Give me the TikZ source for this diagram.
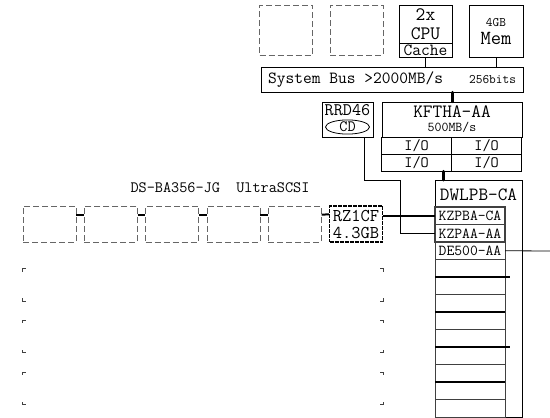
\documentclass[tikz,border=0pt]{standalone}
\usepackage{fontspec}
\usetikzlibrary{positioning, shapes.geometric}

\newcommand{\fs}[1]{\fontsize{#1}{#1}\selectfont}
\newcommand{\shelfcorners}[1]{%
\draw [corner] ([xshift=3pt]#1.north west) -- (#1.north west) -- ([yshift=-3pt]#1.north west);
\draw [corner] ([xshift=-3pt]#1.north east) -- (#1.north east) -- ([yshift=-3pt]#1.north east);
\draw [corner] ([xshift=3pt]#1.south west) -- (#1.south west) -- ([yshift=3pt]#1.south west);
\draw [corner] ([xshift=-3pt]#1.south east) -- (#1.south east) -- ([yshift=3pt]#1.south east);}

\tikzstyle{emptybay} = [rectangle, 
draw=black!60, 
dash pattern=on 6pt off 3pt,
minimum width=53pt, 
minimum height=50pt,
inner sep=0pt]
\tikzstyle{module} = [rectangle, 
draw=black, 
inner sep=0pt,
text centered]
\tikzstyle{disk} = [rectangle, 
draw=black!60, 
dash pattern=on 6pt off 3pt,
minimum width=53pt, 
minimum height=36pt,
inner sep=0pt]
\tikzstyle{iocard} = [rectangle, 
draw=black, line width=1.5pt, outer sep=0pt,
minimum width=70pt, 
minimum height=17pt,
inner sep=0pt,
font=\ttfamily\fs{15.8}]
\tikzstyle{slot} = [rectangle, 
draw=black!75, outer sep=0pt,
minimum width=70pt, 
minimum height=17.5pt,
inner sep=0pt,
font=\ttfamily\fs{15.2}]
\tikzstyle{emptyshelf} = [rectangle, 
minimum width=360pt, 
inner sep=0pt]
\tikzstyle{line} = [line width=0.8pt]
\tikzstyle{busline} = [line width=3pt, line cap=round]
\tikzstyle{scsi} = [line width=2pt]
\tikzstyle{slotbus} = [line width=1.5pt]
\tikzstyle{corner} = [black!75, line width=0.9pt]

\begin{document}
\begin{tikzpicture}[x=1pt, y=-1pt, line width=0.8pt, every node/.style={font=\ttfamily}]
\useasboundingbox (0,0) rectangle (550,418);

% system board
\node (bay1) [emptybay] at (286,30) {};
\node (bay2) [emptybay, right=17pt of bay1] {};
\node (cpu) [module, minimum width=53pt, minimum height=38pt, align=center, font=\ttfamily\fontsize{19}{19}\selectfont] at (425.5,24) {2x\\CPU};
\node (cache) [module, below=0pt of cpu, minimum width=53pt, minimum height=14pt, font=\ttfamily\fs{17}] {Cache};
\node (mem) [module, minimum width=54pt, minimum height=52pt, align=center, font=\ttfamily\fontsize{20}{18}\selectfont] at (496,31) {{\fs{13}4GB}\\Mem};
\node (bus) [module, minimum width=262pt, minimum height=25pt, font=\ttfamily\fs{17}] at (392,79.5) {System Bus >2000MB/s\hspace{26pt}{\fs{13}256bits}};

% bridge
\node (kftha) [module, minimum width=140pt, minimum height=35pt, align=center, font=\ttfamily\fontsize{18.8}{14}\selectfont] at (452,119.5) {KFTHA-AA\\{\fs{13.5}500MB/s}};
\node (io1) [iocard, anchor=north west] at (kftha.south west) {I/O};
\node (io2) [iocard, right=0pt of io1] {I/O};
\node (io3) [iocard, below=0pt of io1] {I/O};
\node (io4) [iocard, right=0pt of io3] {I/O};

% cd drive
\node (rrd) [module, minimum width=51pt, minimum height=35pt] at (347.5,119.5) {};
\node (rrdname) [font=\ttfamily\fs{17.7}, inner sep=0pt] at (347.5,110.5) {RRD46};
\node (cd) [ellipse, draw, minimum width=44pt, minimum height=14pt, inner sep=0pt, font=\ttfamily\fs{15.8}] at (347.5,127) {CD};

% pci box
\node (dwlpb) [module, minimum width=87pt, minimum height=237pt, anchor=north west] at (435,180) {};
\node (dwlpbname) [font=\ttfamily\fs{18.7}, inner sep=0pt] at (478.5,195) {DWLPB-CA};
\node (kzpba) [slot, line width=1.2pt, anchor=north west] at (435,207) {KZPBA-CA};
\node (kzpaa) [slot, line width=1.2pt, below=0pt of kzpba] {KZPAA-AA};
\node (de500) [slot, below=0pt of kzpaa] {DE500-AA};
\foreach \i in {4,...,12}
  \node (slot\i) [slot, anchor=north west] at (435,{207+17.5*(\i-1)}) {};
\coordinate (lan) at (550,251);

% storage shelf
\node (shelfname) [font=\ttfamily\fs{15.8}, inner sep=0pt] at (220,188) {DS-BA356-JG\ \ UltraSCSI};
\foreach \i in {1,...,5}
  \node (disk\i) [disk] at ({49.5+61.3*(\i-1)},224) {};
\node (rz1cf) [disk, draw=black, line width=1.2pt, dash pattern=on 4pt off 1pt, align=center, font=\ttfamily\fontsize{18}{17}\selectfont] at (356,224) {RZ1CF\\4.3GB};
\foreach \i/\y in {1/285,2/336.5,3/388.5} {
  \node (shelf\i) [emptyshelf, minimum height=32pt] at (203,\y) {};
  \shelfcorners{shelf\i}
}

\draw [line] (cache.south) -- (cache.south |- bus.north);
\draw [line] (mem.south) -- (mem.south |- bus.north);
\draw [busline] (kftha.north) -- (kftha.north |- bus.south);
\draw [busline] ([xshift=8pt]dwlpb.north west) -- ([xshift=8pt]dwlpb.north west |- io3.south);
\draw [line] ([xshift=17pt]rrd.south) |- ++(36,43) |- (kzpaa.west);
\draw [scsi] (kzpba.west) -- (kzpba.west -| rz1cf.east);
\draw [line] (de500.east) -- (lan);
\foreach \a/\b in {disk1/disk2, disk2/disk3, disk3/disk4, disk4/disk5, disk5/rz1cf}
  \draw [scsi] ([yshift=-9pt]\a.north east) -- ([yshift=-9pt]\b.north west);
\foreach \i/\ext in {4/5,6/0,8/5,10/0}
  \draw [slotbus] (slot\i.south west) -- ([xshift=\ext pt]slot\i.south east);
\end{tikzpicture}
\end{document}
